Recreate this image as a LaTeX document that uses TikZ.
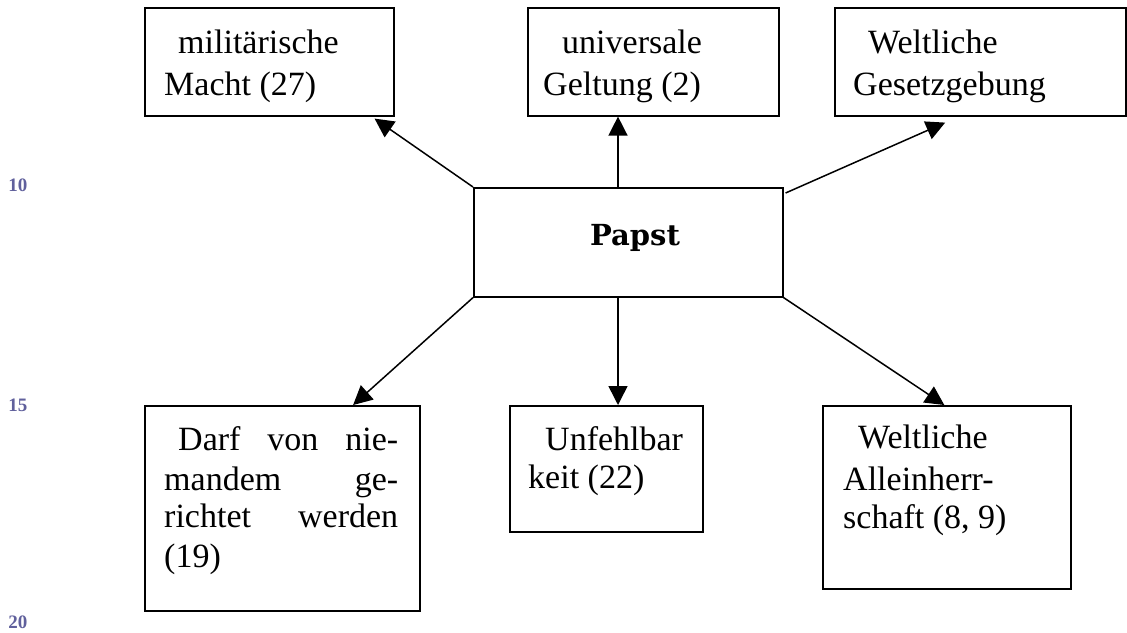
\documentclass[tikz,border=0pt]{standalone}
\usepackage{fontspec}
\setmainfont{Liberation Serif}
\newfontfamily\slabfont{DejaVu Serif}
\usetikzlibrary{arrows.meta,calc}
\definecolor{numblue}{RGB}{96,96,156}
\begin{document}
\begin{tikzpicture}[x=1pt,y=-1pt,
  box/.style={draw=black,line width=1.6pt,rectangle,anchor=north west,inner sep=0pt},
  txt/.style={anchor=base west,inner sep=0pt,font=\fontsize{34}{38}\selectfont},
  num/.style={anchor=center,inner sep=0pt,text=numblue,font=\fontsize{19}{19}\selectfont\bfseries},
  arr/.style={line width=1.5pt,-{Triangle[length=19pt,width=19pt]}}]
\useasboundingbox (0,0) rectangle (1127,632);
% boxes
\node[box,minimum width=249pt,minimum height=108pt] (A) at (144,7) {};
\node[box,minimum width=251pt,minimum height=108pt] (B) at (527,7) {};
\node[box,minimum width=291pt,minimum height=108pt] (C) at (834,7) {};
\node[box,minimum width=309pt,minimum height=109pt] (P) at (473,187) {};
\node[box,minimum width=275pt,minimum height=205pt] (D) at (144,405) {};
\node[box,minimum width=193pt,minimum height=126pt] (E) at (509,405) {};
\node[box,minimum width=248pt,minimum height=183pt] (F) at (822,405) {};
% texts
\node[txt] (a1) at (178,53) {militärische};
\node[txt] (a2) at (164,95) {Macht (27)};
\node[txt] (b1) at (562,53) {universale};
\node[txt] (b2) at (543,95) {Geltung (2)};
\node[txt] (c1) at (868,53) {Weltliche};
\node[txt] (c2) at (853,95) {Gesetzgebung};
\node[anchor=base,inner sep=0pt,font=\slabfont\bfseries\fontsize{29}{29}\selectfont] (p1) at (635,245) {Papst};
\node[txt] (d1) at (178,450) {\hbox to 220pt{Darf\hfill von\hfill nie-}};
\node[txt] (d2) at (164,490) {\hbox to 234pt{mandem\hfill ge-}};
\node[txt] (d3) at (164,527) {\hbox to 234pt{richtet\hfill werden}};
\node[txt] (d4) at (164,567) {(19)};
\node[txt] (e1) at (545,450) {Unfehlbar};
\node[txt] (e2) at (528,488) {keit (22)};
\node[txt] (f1) at (858,448) {Weltliche};
\node[txt] (f2) at (843,490) {Alleinherr-};
\node[txt] (f3) at (843,528) {schaft (8, 9)};
% line numbers
\node[num] (n10) at (18,185) {10};
\node[num] (n15) at (18,405) {15};
\node[num] (n20) at (18,622) {20};
% connectors
\draw[arr] (P.north west) -- ($(A.south west)!0.92!(A.south east)+(0,2)$);
\draw[arr] ($(P.north west)+(145,0)$) -- ($(B.south west)+(91,0)$);
\draw[arr] ($(P.north east)+(2,6)$) -- ($(C.south west)!0.38!(C.south east)+(0,6)$);
\draw[arr] (P.south west) -- ($(D.north west)!0.756!(D.north east)$);
\draw[arr] ($(P.south west)+(145,0)$) -- ($(E.north west)+(109,0)$);
\draw[arr] (P.south east) -- ($(F.north west)!0.49!(F.north east)$);
\end{tikzpicture}
\end{document}
